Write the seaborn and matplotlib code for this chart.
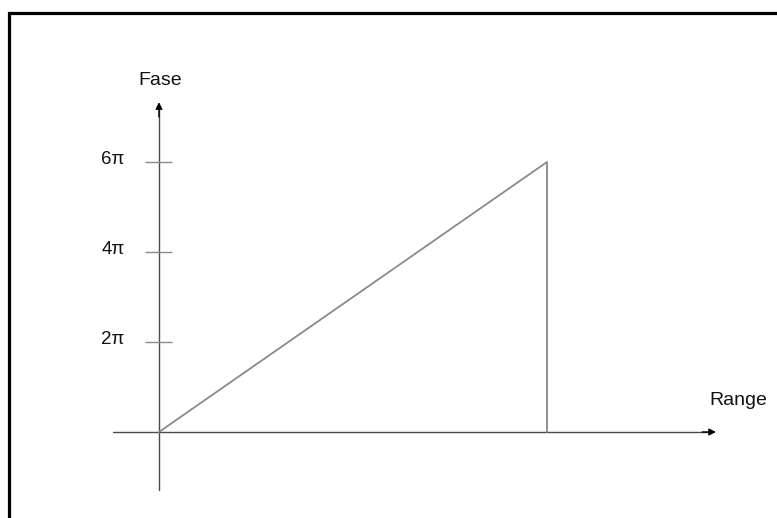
import numpy as np
import pandas as pd
import matplotlib
matplotlib.use("Agg")
import matplotlib.pyplot as plt
import seaborn as sns
from matplotlib.patches import Rectangle

# --- Data ---
ramp_x = [0.0, 1.0, 1.0]          # range (normalised), ramp then drop
ramp_y = [0.0, 6.0, 0.0]          # phase in units of pi
phase_ticks = [2, 4, 6]
phase_labels = ["2\u03c0", "4\u03c0", "6\u03c0"]
x_label = "Range"
y_label = "Fase"

ramp = pd.DataFrame({"range": ramp_x, "phase": ramp_y})

# --- Plot Setup ---
sns.set_theme(style="white")
plt.rcParams["font.family"] = ["Liberation Sans", "DejaVu Sans"]

fig = plt.figure(figsize=(7.77, 5.18), dpi=100)
ax = fig.add_axes([0, 0, 1, 1])
ax.set_xlim(-0.4098, 1.5928)
ax.set_ylim(-1.911, 9.6)

axis_col = "#4a4a4a"
line_col = "#8a8a8a"

# axes lines, then black arrow heads on top
ax.plot([-0.1186, 1.42], [0, 0], color=axis_col, lw=1.0)
ax.plot([0, 0], [-1.29, 7.2], color=axis_col, lw=1.0)
ax.annotate("", xy=(1.4356, 0), xytext=(1.40, 0),
            arrowprops=dict(arrowstyle="-|>", color="black", lw=1.0,
                            mutation_scale=10, shrinkA=0, shrinkB=0))
ax.annotate("", xy=(0, 7.33), xytext=(0, 7.0),
            arrowprops=dict(arrowstyle="-|>", color="black", lw=1.0,
                            mutation_scale=10, shrinkA=0, shrinkB=0))

# tick marks and labels on the phase axis
ax.hlines(phase_ticks, -0.036, 0.034, color=line_col, lw=1.0)
for t, lab in zip(phase_ticks, phase_labels):
    ax.text(-0.1186, t + 0.05, lab, ha="center", va="center", fontsize=13.5, color="#111111")

# phase ramp
sns.lineplot(data=ramp, x="range", y="phase", sort=False, estimator=None,
             color=line_col, lw=1.3, ax=ax)
ax.set_xlim(-0.4098, 1.5928)
ax.set_ylim(-1.911, 9.6)
ax.axis("off")

ax.text(0.003, 7.82, y_label, ha="center", va="center", fontsize=14, color="#111111")
ax.text(1.492, 0.71, x_label, ha="center", va="center", fontsize=14, color="#111111")

# frame around the figure (cut at right and bottom)
fig.patches.append(Rectangle((8.5 / 777, -0.1), 1.2, (518 - 13.5) / 518 + 0.1,
                             transform=fig.transFigure, fill=False,
                             edgecolor="black", lw=2.3))

fig.savefig("out.png", dpi=100)
